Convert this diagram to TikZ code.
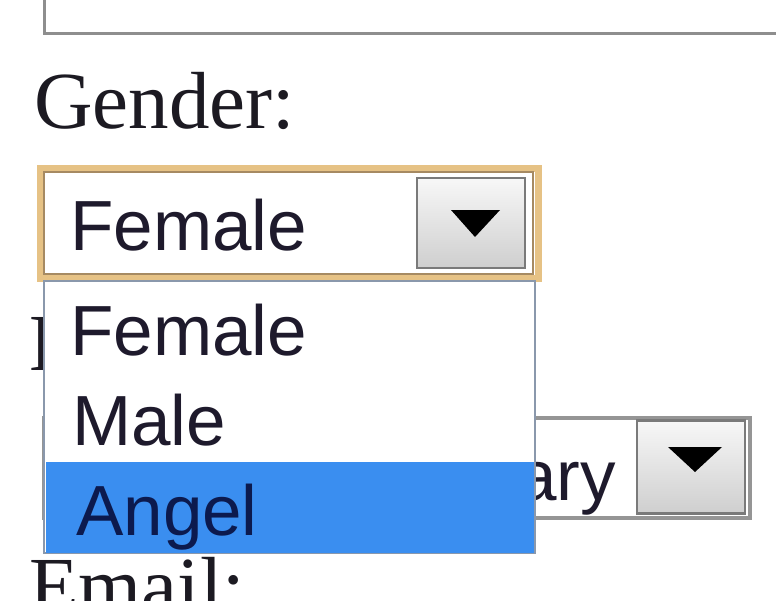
\documentclass[tikz,border=0pt]{standalone}
\usepackage{fontspec}
\setmainfont{Liberation Serif}
\newfontfamily\uisans{Liberation Sans}
\definecolor{labelink}{HTML}{1C1A22}
\definecolor{optink}{HTML}{1E1A2C}
\definecolor{selink}{HTML}{0C1A4E}
\definecolor{boxgray}{HTML}{8E8E8E}
\definecolor{glow}{HTML}{E6C285}
\definecolor{glowin}{HTML}{A68A62}
\definecolor{listedge}{HTML}{8A98AC}
\definecolor{hilite}{HTML}{3A8EF0}
\definecolor{btnedge}{HTML}{7A7A7A}
\begin{document}
\begin{tikzpicture}[x=1pt,y=-1pt,
  lbl/.style={anchor=base west,inner sep=0pt,font=\fontsize{81}{90}\selectfont,text=labelink},
  opt/.style={anchor=base west,inner sep=0pt,font=\uisans\fontsize{71}{80}\selectfont,text=optink},
  btn/.style={draw=btnedge,line width=2.5pt,top color=white!94!gray,bottom color=gray!38},
  arrowtri/.style={fill=black}]
\useasboundingbox (0,0) rectangle (776,600);
\clip (0,0) rectangle (776,600);
\fill[white] (0,0) rectangle (776,600);

% top text field (cut off)
\draw[boxgray,line width=3pt] (44,-10) -- (44,33) -- (790,33);

% Gender label
\node[lbl] (gender) at (34,128) {Gender:};

% hidden label behind the list
\node[lbl] (birth) at (29,370) {Birthday:};

% month select behind the list
\draw[btnedge!80,line width=3.5pt,fill=white] (44,418) rectangle (750,518);
\node[opt] (month) at (363,500) {January};
\node[btn,minimum width=108pt,minimum height=93pt,inner sep=0pt] (monthbtn) at (691,467) {};
\fill[arrowtri] (668,447) -- (722,447) -- (695,472) -- cycle;

% Email label
\node[lbl] (email) at (29,613) {Email:};

% main select with focus glow
\draw[glow,line width=7pt] (40,168) rectangle (538,278);
\draw[glowin,line width=2pt,fill=white] (44,172) rectangle (533,274);
\node[opt] (current) at (70,250) {Female};
\node[btn,minimum width=108pt,minimum height=90pt,inner sep=0pt] (genderbtn) at (471,223) {};
\fill[arrowtri] (451,210) -- (500,210) -- (475,237) -- cycle;

% open list
\draw[listedge,line width=2.5pt,fill=white] (44,281) rectangle (535,553);
\fill[hilite] (45.5,462) rectangle (533.5,553);
\node[opt] (optf) at (70,355) {Female};
\node[opt] (optm) at (72,445) {Male};
\node[opt,text=selink] (opta) at (76,535) {Angel};
\end{tikzpicture}
\end{document}
